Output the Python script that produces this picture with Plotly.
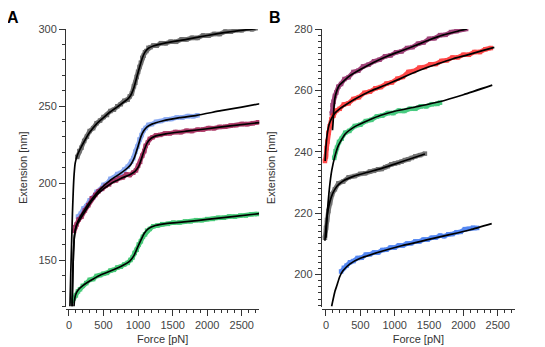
import plotly.graph_objects as go

# ---- panel A : force [pN] / extension [nm] ----
a_gray_f = [120, 150, 180, 220, 260, 300, 350, 400, 450, 500, 550, 600, 650, 700, 750, 800, 850, 880, 910, 940,
            960, 980, 1000, 1020, 1040, 1060, 1080, 1100, 1120, 1150, 1180, 1220, 1270, 1330, 1400, 1470, 1550,
            1630, 1700, 1780, 1860, 1940, 2020, 2100, 2180, 2260, 2340, 2420, 2500, 2580, 2650, 2700]
a_gray_e = [217, 220.8, 223, 227.4, 230.2, 233.8, 235.7, 238.9, 240.6, 242.9, 244.2, 246.8, 247.7, 249.9, 251.2,
            253.4, 254.2, 256.3, 258.2, 262.9, 265.1, 268.9, 272.2, 275.4, 278.1, 281.3, 282.7, 284.9, 285.7,
            287.8, 288.2, 289.3, 289.2, 290.8, 290.7, 291.8, 291.7, 293.3, 293.2, 294.3, 294.2, 295.8, 295.7,
            296.8, 296.7, 298.3, 298.2, 299.3, 299.2, 300.2, 299.8, 300.5]
a_gray_fit_f = [14, 25, 39, 50, 62, 75, 90, 120, 160, 220, 300, 400, 500, 600, 700, 800, 860, 900, 940, 980,
                1020, 1060, 1100, 1150, 1220, 1400, 1700, 2000, 2300, 2700]
a_gray_fit_e = [120, 140, 163, 180, 195, 206, 213, 218, 222, 227, 233, 238.5, 242.5, 246.3, 249.5, 252.8, 255,
                257.5, 262, 268.5, 275, 281, 285, 287.5, 289, 291, 293.3, 295.8, 298, 300.2]

a_blue_f = [130, 170, 210, 250, 300, 350, 400, 450, 500, 550, 600, 650, 700, 750, 800, 850, 900, 930, 960, 990,
            1020, 1050, 1080, 1110, 1150, 1200, 1260, 1330, 1400, 1480, 1560, 1640, 1720, 1800, 1860]
a_blue_e = [178.3, 180.2, 183.6, 185.1, 188.9, 190.7, 194.4, 195.7, 198.9, 199.7, 202.8, 203.7, 205.9, 206.7,
            208.8, 210.7, 213.9, 216.2, 220.4, 223.7, 228.3, 231.2, 234.3, 235.8, 237.8, 238.3, 239.8, 240.3,
            241.3, 241.6, 242.6, 242.6, 243.5, 243.4, 244]
a_blue_fit_f = [45, 55, 65, 80, 110, 160, 230, 330, 450, 600, 750, 850, 900, 950, 1000, 1040, 1080, 1130, 1200,
                1350, 1600, 1850, 2200, 2500, 2760]
a_blue_fit_e = [120, 140, 155, 166, 173, 178, 183, 189.5, 196, 202, 206.5, 210, 212.5, 217, 224, 230, 233.8,
                236.5, 238.3, 240.3, 242.5, 244, 247, 249.3, 251.5]

a_red_f = [75, 90, 110, 140, 180, 230, 280, 330, 380, 430, 480, 530, 580, 630, 680, 730, 780, 830, 880, 930, 970,
           1000, 1030, 1060, 1090, 1110, 1140, 1170, 1210, 1260, 1320, 1390, 1460, 1540, 1620, 1700, 1780, 1860,
           1940, 2020, 2100, 2180, 2260, 2340, 2420, 2500, 2580, 2660, 2740]
a_red_e = [169, 171.5, 173.2, 176.4, 178.2, 182.3, 185.7, 190.2, 192.3, 194.8, 196.3, 198.3, 199.2, 201.3, 201.8,
           203.3, 203.8, 205.7, 205.3, 206.8, 208.3, 211.3, 213.8, 217.8, 220.8, 224.2, 226.3, 228.7, 229.8, 231,
           231.3, 232.2, 232.3, 233.2, 233.1, 234, 233.8, 234.7, 234.8, 235.7, 235.6, 236.5, 236.6, 237.4, 237.6,
           238.4, 238.3, 238.9, 239.5]
a_red_fit_f = [45, 55, 65, 80, 110, 160, 230, 330, 450, 600, 750, 880, 960, 1010, 1050, 1090, 1130, 1180, 1250,
               1400, 1700, 2000, 2300, 2760]
a_red_fit_e = [120, 140, 155, 166, 172.5, 176.5, 181.5, 188.5, 194.5, 199.5, 203, 205.5, 207.8, 211, 216, 221.5,
               226, 228.8, 230.5, 232, 233.7, 235.3, 237, 239.3]

a_green_f = [50, 70, 100, 130, 160, 200, 250, 300, 350, 400, 450, 500, 550, 600, 650, 700, 750, 800, 850, 890,
             920, 950, 980, 1010, 1040, 1070, 1100, 1130, 1170, 1220, 1280, 1350, 1430, 1510, 1600, 1680, 1760,
             1840, 1920, 2000, 2080, 2160, 2240, 2320, 2400, 2480, 2560, 2640, 2720]
a_green_e = [123.5, 125.4, 127.2, 129.8, 131.2, 133.4, 135.2, 137.3, 137.8, 139.8, 140.3, 141.3, 141.8, 143.3,
             143.8, 145.3, 145.8, 147.2, 148.3, 150.2, 151.8, 154.7, 156.8, 160.2, 162.3, 165.2, 166.8, 169.2,
             170.3, 172, 172.5, 173.4, 173.6, 174.4, 174.5, 175.2, 175.2, 176, 176, 176.7, 176.8, 177.5, 177.6,
             178.4, 178.3, 179, 179, 179.8, 180]
a_green_fit_f = [72, 80, 95, 130, 200, 300, 450, 600, 750, 880, 940, 990, 1040, 1090, 1150, 1250, 1400, 1700,
                 2000, 2400, 2750]
a_green_fit_e = [120, 124, 127.5, 130.5, 133.5, 136.5, 140.3, 143, 146, 149.5, 153, 158, 163, 167.5, 170.5, 172.5,
                 173.8, 175, 176.5, 178.5, 180.2]

# ---- panel B ----
b_purple_f = [85, 95, 110, 130, 150, 180, 220, 270, 330, 400, 470, 540, 620, 700, 780, 860, 940, 1020, 1100, 1180,
              1260, 1340, 1420, 1500, 1580, 1660, 1740, 1820, 1900, 1980, 2040]
b_purple_e = [252.5, 255.2, 256.3, 258.2, 259.3, 261.2, 262.1, 263.7, 264.3, 266, 266.4, 267.8, 268.4, 269.5,
              270, 271.1, 271.4, 272.4, 272.7, 273.8, 274.1, 275.2, 275.6, 276.8, 277, 278, 278.1, 279, 279.3,
              279.9, 280]
b_purple_fit_f = [95, 105, 115, 130, 160, 200, 270, 350, 500, 700, 900, 1100, 1300, 1500, 1700, 1900, 2050]
b_purple_fit_e = [247, 250, 254, 257.5, 260, 261.8, 263.3, 264.8, 266.8, 269.2, 271.2, 272.9, 274.6, 276.4, 278,
                  279.2, 280]

b_red_f = [-15, 0, 10, 20, 35, 55, 80, 110, 150, 200, 260, 330, 400, 480, 560, 640, 720, 800, 880, 960, 1040,
           1120, 1200, 1280, 1360, 1440, 1520, 1600, 1680, 1760, 1840, 1920, 2000, 2080, 2160, 2240, 2320, 2400]
b_red_e = [237, 238.5, 241.2, 243.3, 246.2, 248.3, 250.7, 251.8, 253.4, 254, 255.4, 255.8, 257.2, 257.8, 259.2,
           259.6, 260.7, 261.1, 262.2, 262.6, 263.8, 264.4, 266, 266.3, 267.4, 267.6, 268.5, 268.6, 269.6, 269.8,
           270.7, 270.8, 271.6, 271.6, 272.5, 272.5, 273.4, 273.8]
b_red_fit_f = [-12, -5, 5, 20, 45, 80, 130, 200, 300, 450, 650, 850, 1050, 1250, 1450, 1650, 1850, 2050, 2250,
               2450]
b_red_fit_e = [237, 240, 243, 246, 248.8, 250.8, 252.6, 254, 255.5, 257.5, 259.8, 261.6, 263.5, 265.5, 267.3,
               268.8, 270.3, 271.5, 272.8, 274]

b_green_f = [120, 140, 160, 190, 230, 280, 340, 420, 500, 580, 660, 740, 820, 900, 980, 1060, 1140, 1220, 1300,
             1380, 1460, 1540, 1620, 1660]
b_green_e = [238, 240.2, 241.3, 243.2, 244.3, 246.2, 246.8, 248.4, 248.8, 250, 250.4, 251.5, 251.8, 252.6,
             252.6, 253.4, 253.3, 254, 254, 254.8, 254.8, 255.5, 255.6, 256]
b_green_fit_f = [0, 20, 50, 85, 130, 180, 280, 420, 620, 810, 1000, 1300, 1650, 2000, 2420]
b_green_fit_e = [212, 220, 228, 234, 238.5, 242, 245.8, 248.2, 250.3, 252, 253.2, 254.6, 256.3, 258.6, 261.7]

b_gray_f = [-15, 0, 15, 35, 60, 90, 130, 180, 250, 330, 420, 500, 570, 640, 700, 760, 811, 860, 900, 950, 1004,
            1050, 1100, 1150, 1200, 1250, 1300, 1370, 1440]
b_gray_e = [212, 215.2, 217.8, 220.7, 223.3, 226.2, 227.8, 229.7, 230.3, 231.7, 232.1, 232.8, 233, 233.6, 233.8,
            234.3, 234.4, 235, 235.3, 235.9, 236.2, 236.4, 236.8, 237.3, 237.5, 238, 238.5, 238.9, 239.4]
b_gray_fit_f = [-15, -5, 10, 30, 60, 100, 160, 250, 400, 600, 800, 1000, 1200, 1440]
b_gray_fit_e = [211, 214, 218, 221, 224, 226.5, 228.8, 230.5, 232, 233.3, 234.5, 236, 237.5, 239.3]

b_blue_f = [220, 260, 300, 350, 400, 460, 520, 580, 640, 700, 760, 820, 880, 940, 1000, 1060, 1120, 1180, 1240,
            1300, 1360, 1420, 1480, 1540, 1600, 1660, 1720, 1780, 1840, 1900, 1960, 2020, 2080, 2140, 2200]
b_blue_e = [201, 202.2, 202.9, 204, 204.4, 205.4, 205.5, 206.5, 206.6, 207.2, 207.2, 208, 208.1, 208.8, 208.8,
            209.5, 209.5, 210.1, 210.2, 210.8, 210.8, 211.4, 211.4, 212, 212.1, 212.7, 212.5, 213.1, 213.2, 213.8,
            213.9, 214.8, 214.9, 215.3, 215.2]
b_blue_fit_f = [82, 100, 130, 160, 200, 250, 350, 500, 800, 1100, 1450, 1800, 2100, 2412]
b_blue_fit_e = [189.6, 191.5, 194.5, 196.5, 199.3, 201.3, 203.5, 205.3, 207.5, 209.4, 211.2, 213, 214.6, 216.6]

# the page puts the plot 8px in from the top-left corner, so shrink the figure by that much
OFF = 8
W, H = 545 - OFF, 347 - OFF
FONT = "Liberation Sans, Arial, sans-serif"


def px(x):
    return (x - OFF) / W


def py(y):
    return 1 - (y - OFF) / H


fig = go.Figure()


def data(f, e, color, xa, ya):
    # the measured traces are dense noisy points -> thick band of small squares
    fig.add_trace(go.Scatter(x=f, y=e, mode="lines+markers", xaxis=xa, yaxis=ya,
                             line=dict(color=color, width=4.5),
                             marker=dict(color=color, size=4.5, symbol="square"),
                             opacity=0.82, hoverinfo="skip", showlegend=False))


def fit(f, e, xa, ya):
    fig.add_trace(go.Scatter(x=f, y=e, mode="lines", xaxis=xa, yaxis=ya,
                             line=dict(color="black", width=1.7, shape="spline", smoothing=0.5),
                             hoverinfo="skip", showlegend=False))


data(a_gray_f, a_gray_e, "#505050", "x", "y")
data(a_blue_f, a_blue_e, "#7097f0", "x", "y")
data(a_red_f, a_red_e, "#9c1047", "x", "y")
data(a_green_f, a_green_e, "#1fbf5b", "x", "y")
fit(a_gray_fit_f, a_gray_fit_e, "x", "y")
fit(a_blue_fit_f, a_blue_fit_e, "x", "y")
fit(a_red_fit_f, a_red_fit_e, "x", "y")
fit(a_green_fit_f, a_green_fit_e, "x", "y")

data(b_purple_f, b_purple_e, "#8b1a5c", "x2", "y2")
data(b_red_f, b_red_e, "#ff2020", "x2", "y2")
data(b_green_f, b_green_e, "#20c065", "x2", "y2")
data(b_gray_f, b_gray_e, "#555555", "x2", "y2")
data(b_blue_f, b_blue_e, "#2f6df0", "x2", "y2")
fit(b_purple_fit_f, b_purple_fit_e, "x2", "y2")
fit(b_red_fit_f, b_red_fit_e, "x2", "y2")
fit(b_green_fit_f, b_green_fit_e, "x2", "y2")
fit(b_gray_fit_f, b_gray_fit_e, "x2", "y2")
fit(b_blue_fit_f, b_blue_fit_e, "x2", "y2")

# pixel positions measured on the reference
y_dom = [py(306.5), py(29)]
x_pos = py(308.5)

axis_common = dict(showgrid=False, zeroline=False, showline=True, linecolor="#333", linewidth=1,
                   ticks="outside", ticklen=6, tickcolor="#333", tickwidth=1, automargin=False,
                   tickfont=dict(family=FONT, size=11, color="#444"),
                   title_font=dict(family=FONT, size=11, color="#333"))

fig.update_layout(
    template="none",
    width=W, height=H,
    margin=dict(l=0, r=0, t=0, b=0, autoexpand=False),
    paper_bgcolor="white", plot_bgcolor="white",
    xaxis=dict(axis_common, domain=[px(66), px(259.3)], range=[-43, 2754], anchor="free", position=x_pos,
               dtick=500, minor=dict(dtick=100, ticklen=3, ticks="outside", tickcolor="#333"),
               title=dict(text="Force [pN]", standoff=5)),
    yaxis=dict(axis_common, domain=y_dom, range=[120, 300], anchor="x",
               tickvals=[150, 200, 250, 300],
               minor=dict(dtick=10, ticklen=3, ticks="outside", tickcolor="#333"),
               title=dict(text="Extension [nm]", standoff=8)),
    xaxis2=dict(axis_common, domain=[px(321.7), px(515)], range=[-62, 2751], anchor="free", position=x_pos,
                dtick=500, minor=dict(dtick=100, ticklen=3, ticks="outside", tickcolor="#333"),
                title=dict(text="Force [pN]", standoff=5)),
    yaxis2=dict(axis_common, domain=y_dom, range=[189.6, 280], anchor="x2",
                tickvals=[200, 220, 240, 260, 280],
                minor=dict(dtick=2, ticklen=3, ticks="outside", tickcolor="#333"),
                title=dict(text="Extension [nm]", standoff=16)),
    annotations=[
        dict(text="<b>A</b>", x=px(12.5), y=1, xref="paper", yref="paper", showarrow=False, borderpad=0,
             xanchor="center", yanchor="top", font=dict(family=FONT, size=16, color="black")),
        dict(text="<b>B</b>", x=px(275), y=1, xref="paper", yref="paper", showarrow=False, borderpad=0,
             xanchor="center", yanchor="top", font=dict(family=FONT, size=16, color="black")),
    ],
)

fig.write_html("out.html")
